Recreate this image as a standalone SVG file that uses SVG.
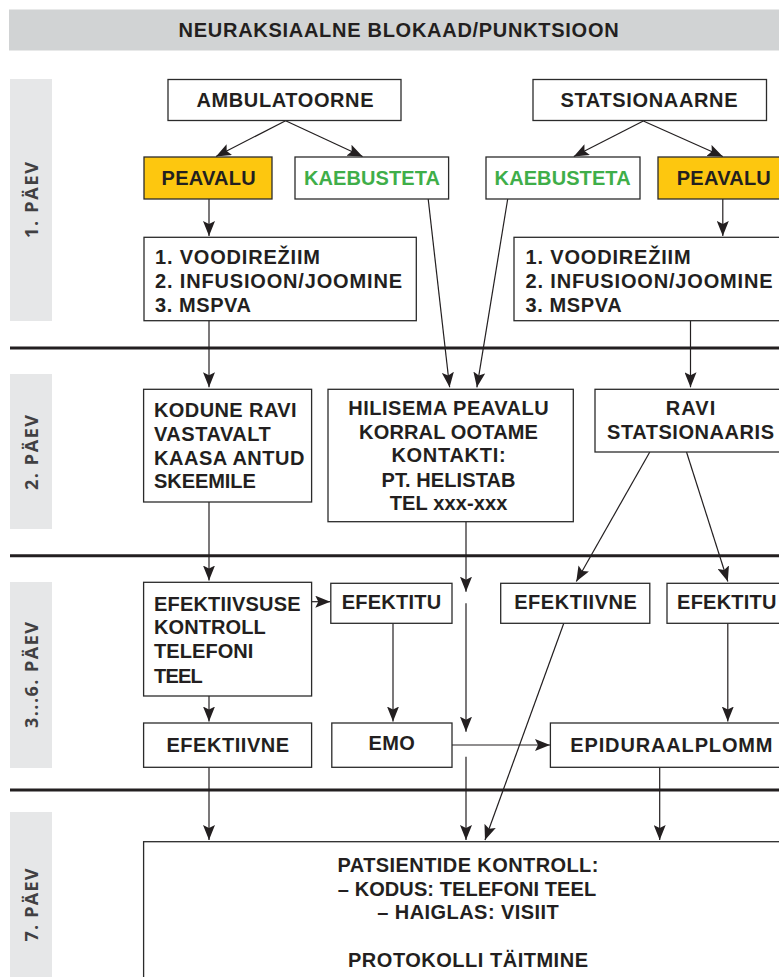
<svg xmlns="http://www.w3.org/2000/svg" width="779" height="977" viewBox="0 0 779 977">
<defs>
<style>
.bx{fill:#fff;stroke:#2b2b2b;stroke-width:1.3}
.y{fill:#fdc70f}
.t{font-family:"Liberation Sans",Arial,sans-serif;font-weight:700;font-size:20px;fill:#231f20}
.c{text-anchor:middle}
.g{fill:#3fae49}
.day{font-family:"Open Sans","Liberation Sans",sans-serif;font-weight:700;font-size:18px;fill:#414042;text-anchor:middle}
.dbg{fill:#e6e7e8}
.sep{stroke:#231f20;stroke-width:3}
.ln{stroke:#231f20;stroke-width:1.2;fill:none}
.ar{marker-end:url(#ah)}
</style>
<marker id="ah" markerUnits="userSpaceOnUse" markerWidth="16" markerHeight="12" refX="15" refY="6" orient="auto">
<path d="M0,0 L15,6 L0,12 L3,6 Z" fill="#231f20"/>
</marker>
</defs>
<rect width="779" height="977" fill="#fff"/>

<g id="title">
<rect x="9" y="9.5" width="775" height="41" fill="#d1d3d4"/>
<text class="t c" x="398.6" y="36.7" textLength="440">NEURAKSIAALNE BLOKAAD/PUNKTSIOON</text>
</g>

<g id="days">
<rect class="dbg" x="10" y="79" width="42" height="242"/>
<rect class="dbg" x="10" y="374" width="42" height="155"/>
<rect class="dbg" x="10" y="582" width="42" height="186"/>
<rect class="dbg" x="10" y="812" width="42" height="190"/>
<text class="day" transform="translate(31,200) rotate(-90)" y="6.5" textLength="76">1. PÄEV</text>
<text class="day" transform="translate(31,452.5) rotate(-90)" y="6.5" textLength="75">2. PÄEV</text>
<text class="day" transform="translate(31,675) rotate(-90)" y="6.5" textLength="106">3...6. PÄEV</text>
<text class="day" transform="translate(31,905) rotate(-90)" y="6.5" textLength="73">7. PÄEV</text>
</g>

<g id="separators">
<line class="sep" x1="10" y1="348" x2="779" y2="348"/>
<line class="sep" x1="10" y1="555.7" x2="779" y2="555.7"/>
<line class="sep" x1="10" y1="790" x2="779" y2="790"/>
</g>

<g id="connectors">
<line class="ln ar" x1="285.6" y1="120.7" x2="216" y2="156.5"/>
<line class="ln ar" x1="285.6" y1="120.7" x2="362.6" y2="156.5"/>
<line class="ln ar" x1="643.3" y1="121" x2="573.8" y2="156.5"/>
<line class="ln ar" x1="643.3" y1="121" x2="722.8" y2="156.5"/>
<line class="ln ar" x1="209" y1="199" x2="209" y2="236"/>
<line class="ln ar" x1="722.8" y1="199" x2="722.8" y2="236"/>
<line class="ln ar" x1="428.2" y1="199" x2="449.6" y2="387.3"/>
<line class="ln ar" x1="507.7" y1="199" x2="476.9" y2="387.3"/>
<line class="ln ar" x1="209" y1="320.7" x2="209" y2="387.3"/>
<line class="ln ar" x1="690.5" y1="320.7" x2="690.5" y2="387.3"/>
<line class="ln ar" x1="209" y1="502" x2="209" y2="580.5"/>
<line class="ln ar" x1="466" y1="521.7" x2="466" y2="591.7"/>
<line class="ln ar" x1="466" y1="603.3" x2="466" y2="731.7"/>
<line class="ln ar" x1="466" y1="756.7" x2="466" y2="840"/>
<line class="ln ar" x1="649.8" y1="452" x2="576.3" y2="581.5"/>
<line class="ln ar" x1="686.5" y1="452" x2="727.8" y2="581.5"/>
<line class="ln ar" x1="311.5" y1="601.7" x2="330.3" y2="601.7"/>
<line class="ln ar" x1="393" y1="623.3" x2="393" y2="721.5"/>
<line class="ln ar" x1="563.8" y1="623.3" x2="485" y2="840"/>
<line class="ln ar" x1="727.8" y1="623.3" x2="727.8" y2="721.5"/>
<line class="ln ar" x1="209" y1="696" x2="209" y2="721.5"/>
<line class="ln ar" x1="452" y1="745" x2="550" y2="745"/>
<line class="ln ar" x1="209" y1="767.3" x2="209" y2="840"/>
<line class="ln ar" x1="659.7" y1="767.3" x2="659.7" y2="840"/>
</g>

<g id="ambulatoorne">
<rect class="bx" x="168" y="79.5" width="233" height="41"/>
<text class="t c" x="285" y="106.7" textLength="177">AMBULATOORNE</text>
</g>
<g id="statsionaarne">
<rect class="bx" x="533" y="79.5" width="233.5" height="41"/>
<text class="t c" x="649" y="106.7" textLength="177">STATSIONAARNE</text>
</g>
<g id="peavalu-l">
<rect class="bx y" x="144" y="157" width="128" height="42"/>
<text class="t c" x="208.6" y="185" textLength="94">PEAVALU</text>
</g>
<g id="kaebusteta-l">
<rect class="bx" x="295" y="157" width="153.6" height="42"/>
<text class="t c g" x="372" y="185" textLength="136">KAEBUSTETA</text>
</g>
<g id="kaebusteta-r">
<rect class="bx" x="486" y="157" width="154" height="42"/>
<text class="t c g" x="562.6" y="185" textLength="136">KAEBUSTETA</text>
</g>
<g id="peavalu-r">
<rect class="bx y" x="658" y="157" width="132" height="42"/>
<text class="t c" x="723.8" y="185" textLength="94">PEAVALU</text>
</g>
<g id="voodi-l">
<rect class="bx" x="144" y="237.3" width="272.3" height="83.4"/>
<text class="t" x="155" y="264.3" textLength="165">1. VOODIREŽIIM</text>
<text class="t" x="155" y="288.3" textLength="247">2. INFUSIOON/JOOMINE</text>
<text class="t" x="155" y="312.3" textLength="96">3. MSPVA</text>
</g>
<g id="voodi-r">
<rect class="bx" x="514" y="237.3" width="276" height="83.4"/>
<text class="t" x="525.6" y="264.3" textLength="165">1. VOODIREŽIIM</text>
<text class="t" x="525.6" y="288.3" textLength="247">2. INFUSIOON/JOOMINE</text>
<text class="t" x="525.6" y="312.3" textLength="96">3. MSPVA</text>
</g>
<g id="kodune">
<rect class="bx" x="143.6" y="389.3" width="168" height="112.7"/>
<text class="t" x="154" y="417.3" textLength="142.6">KODUNE RAVI</text>
<text class="t" x="154" y="441" textLength="116.7">VASTAVALT</text>
<text class="t" x="154" y="464.7" textLength="150.5">KAASA ANTUD</text>
<text class="t" x="154" y="488.3" textLength="101.8">SKEEMILE</text>
</g>
<g id="hilisema">
<rect class="bx" x="328" y="389.3" width="245.3" height="132.4"/>
<text class="t c" x="448.5" y="415" textLength="200.3">HILISEMA PEAVALU</text>
<text class="t c" x="448.5" y="439" textLength="178.8">KORRAL OOTAME</text>
<text class="t c" x="448.5" y="462.3" textLength="114.2">KONTAKTI:</text>
<text class="t c" x="448.5" y="486.7" textLength="134.1">PT. HELISTAB</text>
<text class="t c" x="448.5" y="510" textLength="117.7">TEL xxx-xxx</text>
</g>
<g id="ravi-stats">
<rect class="bx" x="595" y="389.3" width="195" height="62.7"/>
<text class="t c" x="690.5" y="415" textLength="49.7">RAVI</text>
<text class="t c" x="690.5" y="439" textLength="167">STATSIONAARIS</text>
</g>
<g id="efektiivsuse">
<rect class="bx" x="143.6" y="582.3" width="168" height="113.7"/>
<text class="t" x="154" y="611" textLength="146.5">EFEKTIIVSUSE</text>
<text class="t" x="154" y="634.3" textLength="111.8">KONTROLL</text>
<text class="t" x="154" y="658.3" textLength="99.4">TELEFONI</text>
<text class="t" x="154" y="682.7" textLength="48.7">TEEL</text>
</g>
<g id="efektitu-l">
<rect class="bx" x="330.8" y="583.3" width="121.2" height="40"/>
<text class="t c" x="391.4" y="609" textLength="99.4">EFEKTITU</text>
</g>
<g id="efektiivne-r">
<rect class="bx" x="500.7" y="583.3" width="149.1" height="40"/>
<text class="t c" x="575.5" y="609" textLength="122.7">EFEKTIIVNE</text>
</g>
<g id="efektitu-r">
<rect class="bx" x="667" y="583.3" width="123" height="40"/>
<text class="t c" x="726.8" y="609" textLength="99.4">EFEKTITU</text>
</g>
<g id="efektiivne-l">
<rect class="bx" x="143.6" y="723" width="168" height="44.3"/>
<text class="t c" x="227.8" y="751.7" textLength="122.7">EFEKTIIVNE</text>
</g>
<g id="emo">
<rect class="bx" x="331.8" y="723" width="120.2" height="44.3"/>
<text class="t c" x="391.7" y="750" textLength="46.2">EMO</text>
</g>
<g id="epiduraalplomm">
<rect class="bx" x="550.4" y="723" width="240" height="44.3"/>
<text class="t c" x="671.4" y="751.7" textLength="202.2">EPIDURAALPLOMM</text>
</g>
<g id="patsientide">
<rect class="bx" x="143.6" y="841.7" width="649" height="160"/>
<text class="t c" x="468" y="871.7" textLength="260.8">PATSIENTIDE KONTROLL:</text>
<text class="t c" x="467" y="895.7" textLength="258.3">– KODUS: TELEFONI TEEL</text>
<text class="t c" x="468" y="919.3" textLength="181.4">– HAIGLAS: VISIIT</text>
<text class="t c" x="468" y="967.3" textLength="240">PROTOKOLLI TÄITMINE</text>
</g>
</svg>
